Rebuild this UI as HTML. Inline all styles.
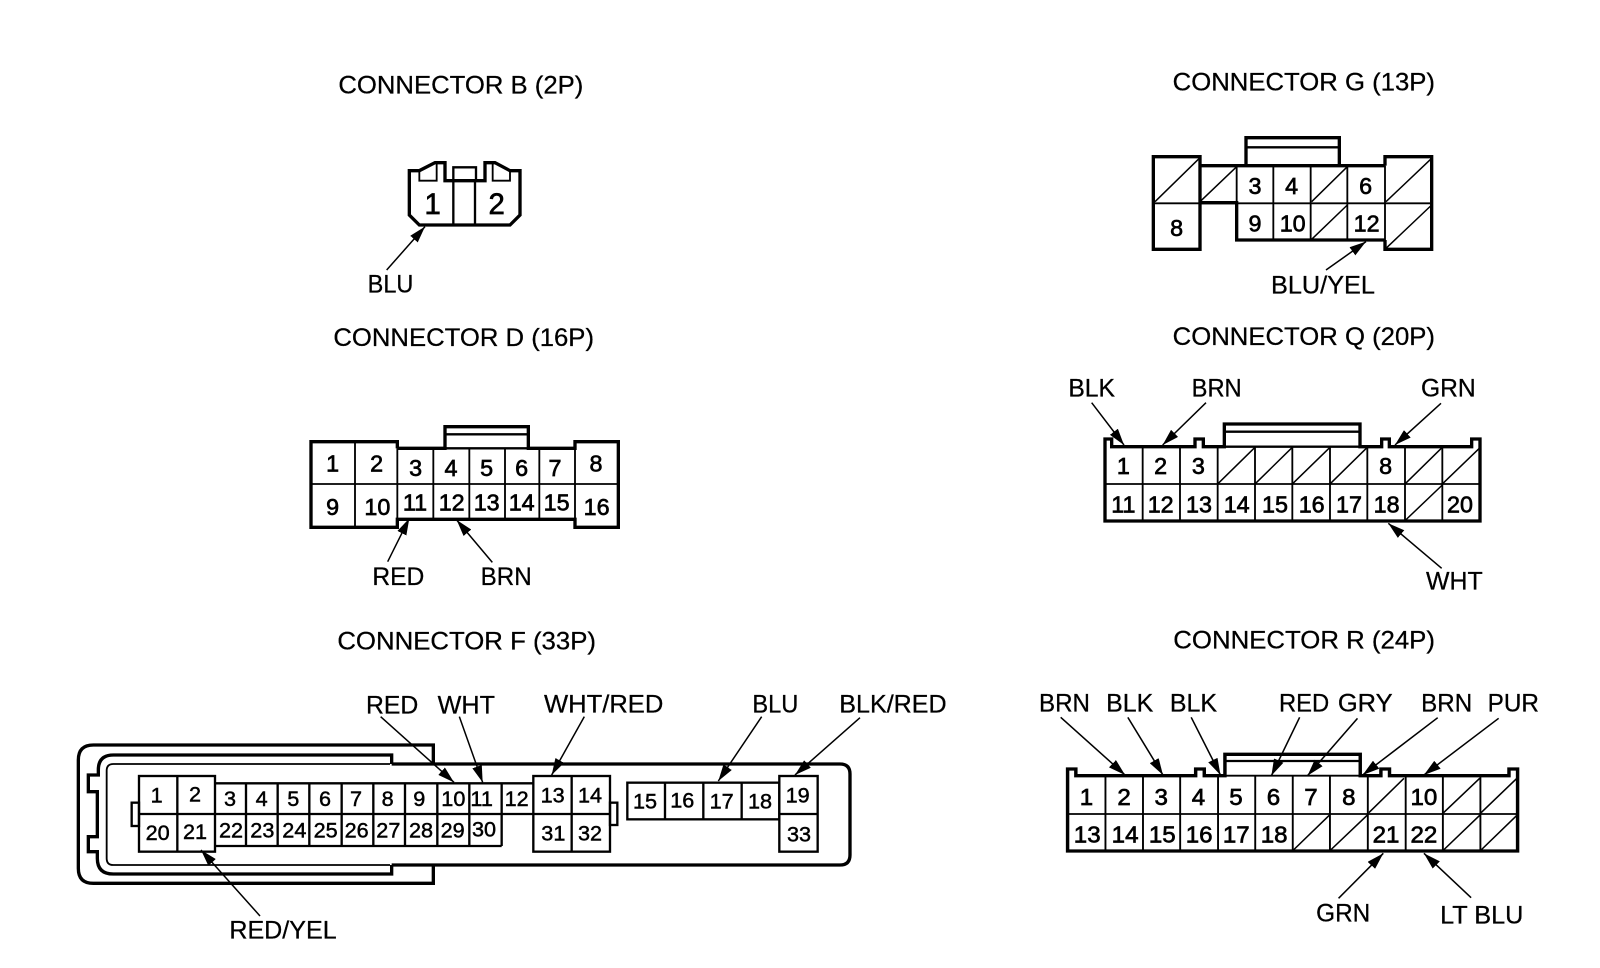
<!DOCTYPE html>
<html><head><meta charset="utf-8"><title>Connectors</title>
<style>
html,body{margin:0;padding:0;background:#fff;width:1600px;height:968px;overflow:hidden}
svg{display:block}
text{font-family:"Liberation Sans",Arial,sans-serif;fill:#000}
.t{font-size:75px;stroke:#000;stroke-width:.8px}
.l{font-size:74px;stroke:#000;stroke-width:.8px}
.n{font-size:70px;text-anchor:middle;stroke:#000;stroke-width:2px}
.f{font-size:65px;text-anchor:middle;stroke:#000;stroke-width:1.4px}
.h{fill:none;stroke:#000;stroke-width:10;stroke-linejoin:miter}
.m{fill:none;stroke:#000;stroke-width:7}
.s{fill:none;stroke:#000;stroke-width:5.5}
.d{fill:none;stroke:#000;stroke-width:4.5}
.a{fill:none;stroke:#000;stroke-width:4.5;marker-end:url(#ah)}
</style></head><body>
<svg width="1600" height="968" viewBox="0 0 1600 968" xmlns="http://www.w3.org/2000/svg">
<defs>
<marker id="ah" viewBox="0 0 50 30" refX="50" refY="15" markerWidth="50" markerHeight="30" orient="auto" markerUnits="userSpaceOnUse"><path d="M0,0 L50,15 L0,30 Z" fill="#000"/></marker>
</defs>
<rect width="1600" height="968" fill="#fff"/>

<!-- CONNECTOR B -->
<g transform="translate(300,50) scale(.33333)">
<text class="t" x="115" y="130" textLength="735" lengthAdjust="spacingAndGlyphs">CONNECTOR B (2P)</text>
<path class="h" d="M328,362 H358 L405,338 H435 V392 H555 V338 H585 L630,362 H660 V495 L630,525 H358 L328,495 Z"/>
<path class="s" d="M358,362 V392 H410 V338 M630,362 V392 H578 V338"/>
<path class="m" d="M460,392 V525 M525,392 V525 M460,392 V352 H528 V392"/>
<text class="n" style="font-size:88px" x="398" y="492">1</text>
<text class="n" style="font-size:88px" x="590" y="492">2</text>
<path class="a" d="M260,660 L375,530"/>
<text class="l" x="203" y="727" textLength="137" lengthAdjust="spacingAndGlyphs">BLU</text>
</g>

<!-- CONNECTOR G -->
<g transform="translate(1100,50) scale(.33333)">
<text class="t" x="218" y="122" textLength="787" lengthAdjust="spacingAndGlyphs">CONNECTOR G (13P)</text>
<path class="s" d="M160,460 H995 M410,347 V460 M520,347 V570 M632,347 V570 M742,347 V570 M855,347 V570"/>
<path class="h" d="M160,320 H300 V598 H160 Z M300,347 H438 V263 H718 V347 H855 M438,347 H718 M300,458 H410 V570 H855 M855,347 V320 H995 V598 H855 V570"/>
<path class="m" d="M438,292 H718"/>
<path class="d" d="M165,455 L298,325 M300,455 L410,350 M635,455 L742,350 M635,568 L742,465 M858,455 L995,325 M858,595 L995,465"/>
<text class="n" x="230" y="558">8</text>
<text class="n" x="465" y="432">3</text><text class="n" x="575" y="432">4</text><text class="n" x="797" y="432">6</text>
<text class="n" x="465" y="545">9</text><text class="n" x="578" y="545">10</text><text class="n" x="800" y="545">12</text>
<path class="a" d="M678,660 L798,575"/>
<text class="l" x="513" y="730" textLength="312" lengthAdjust="spacingAndGlyphs">BLU/YEL</text>
</g>

<!-- CONNECTOR D -->
<g transform="translate(290,320) scale(.33333)">
<text class="t" x="130" y="78" textLength="782" lengthAdjust="spacingAndGlyphs">CONNECTOR D (16P)</text>
<path class="s" d="M63,492 H985 M195,365 V622 M322,385 V598 M430,385 V598 M538,385 V598 M645,385 V598 M748,385 V598 M855,385 V598"/>
<path class="h" d="M322,385 V365 H63 V622 H322 V598 H855 V622 H985 V365 H855 V385 H715 V320 H465 V385 H322"/>
<path class="m" d="M465,343 H715 M465,385 H715"/>
<text class="n" x="128" y="455">1</text><text class="n" x="260" y="455">2</text>
<text class="n" x="377" y="468">3</text><text class="n" x="483" y="468">4</text><text class="n" x="590" y="468">5</text><text class="n" x="695" y="468">6</text><text class="n" x="795" y="468">7</text>
<text class="n" x="918" y="455">8</text>
<text class="n" x="128" y="585">9</text><text class="n" x="262" y="585">10</text>
<text class="n" x="375" y="572">11</text><text class="n" x="485" y="572">12</text><text class="n" x="590" y="572">13</text><text class="n" x="695" y="572">14</text><text class="n" x="800" y="572">15</text>
<text class="n" x="920" y="585">16</text>
<path class="a" d="M293,725 L358,595"/>
<path class="a" d="M607,727 L500,600"/>
<text class="l" x="247" y="795" textLength="156" lengthAdjust="spacingAndGlyphs">RED</text>
<text class="l" x="572" y="795" textLength="153" lengthAdjust="spacingAndGlyphs">BRN</text>
</g>

<!-- CONNECTOR Q -->
<g transform="translate(1060,320) scale(.33333)">
<text class="t" x="338" y="75" textLength="787" lengthAdjust="spacingAndGlyphs">CONNECTOR Q (20P)</text>
<path class="s" d="M135,492 H1260 M248,380 V603 M360,380 V603 M473,380 V603 M585,380 V603 M697,380 V603 M810,380 V603 M922,380 V603 M1035,380 V603 M1147,380 V603"/>
<path class="h" d="M135,357 H155 V380 H405 V357 H430 V380 H493 V312 H900 V380 H965 V357 H988 V380 H1235 V357 H1260 V603 H135 Z"/>
<path class="m" d="M493,335 H900 M493,380 H900"/>
<path class="d" d="M475,490 L585,382 M587,490 L697,382 M699,490 L810,382 M812,490 L922,382 M1037,490 L1147,382 M1149,490 L1258,385 M1037,600 L1147,495"/>
<text class="n" x="190" y="462">1</text><text class="n" x="302" y="462">2</text><text class="n" x="415" y="462">3</text><text class="n" x="977" y="462">8</text>
<text class="n" x="190" y="577">11</text><text class="n" x="302" y="577">12</text><text class="n" x="417" y="577">13</text><text class="n" x="530" y="577">14</text><text class="n" x="645" y="577">15</text><text class="n" x="755" y="577">16</text><text class="n" x="867" y="577">17</text><text class="n" x="980" y="577">18</text><text class="n" x="1200" y="577">20</text>
<path class="a" d="M95,248 L192,375"/>
<path class="a" d="M438,248 L308,375"/>
<path class="a" d="M1143,250 L1005,375"/>
<path class="a" d="M1145,745 L985,610"/>
<text class="l" x="25" y="230" textLength="140" lengthAdjust="spacingAndGlyphs">BLK</text>
<text class="l" x="395" y="230" textLength="150" lengthAdjust="spacingAndGlyphs">BRN</text>
<text class="l" x="1083" y="230" textLength="164" lengthAdjust="spacingAndGlyphs">GRN</text>
<text class="l" x="1098" y="808" textLength="170" lengthAdjust="spacingAndGlyphs">WHT</text>
</g>

<!-- CONNECTOR F -->
<g transform="translate(60,620) scale(.33333)">
<text class="t" x="832" y="88" textLength="776" lengthAdjust="spacingAndGlyphs">CONNECTOR F (33P)</text>
<path class="h" d="M1120,432 V375 H100 Q55,375 55,420 V745 Q55,790 100,790 H1120 V735"/>
<path class="h" d="M995,432 V405 H160 Q115,405 115,450 V465 H85 V515 H112 V650 H85 V695 H112 V715 Q112,762 160,762 H995 V735"/>
<path class="h" d="M995,432 H2340 Q2370,432 2370,462 V705 Q2370,735 2340,735 H995"/>
<path class="s" d="M990,432 H160 Q140,432 140,452 V715 Q140,735 160,735 H990"/>
<rect class="m" x="215" y="548" width="22" height="70"/>
<rect class="m" x="237" y="468" width="228" height="227"/>
<path class="m" d="M352,468 V695 M237,582 H465"/>
<path class="m" d="M465,490 H1420 M465,582 H1420 M465,678 H1325 M558,490 V678 M653,490 V678 M748,490 V678 M845,490 V678 M940,490 V678 M1035,490 V678 M1132,490 V678 M1228,490 V678 M1325,490 V678"/>
<rect class="m" x="1420" y="468" width="230" height="227"/>
<path class="m" d="M1535,468 V695 M1420,582 H1650"/>
<rect class="m" x="1650" y="548" width="22" height="67"/>
<rect class="m" x="1702" y="488" width="456" height="110"/>
<path class="m" d="M1815,488 V598 M1930,488 V598 M2045,488 V598"/>
<rect class="m" x="2158" y="468" width="115" height="227"/>
<path class="m" d="M2158,582 H2273"/>
<text class="f" x="290" y="548">1</text><text class="f" x="405" y="545">2</text>
<text class="f" x="510" y="558">3</text><text class="f" x="605" y="558">4</text><text class="f" x="700" y="558">5</text><text class="f" x="795" y="558">6</text><text class="f" x="888" y="558">7</text><text class="f" x="983" y="558">8</text><text class="f" x="1078" y="558">9</text><text class="f" x="1180" y="558">10</text><text class="f" x="1265" y="558">11</text><text class="f" x="1370" y="558">12</text>
<text class="f" x="293" y="660">20</text><text class="f" x="405" y="657">21</text>
<text class="f" x="513" y="652">22</text><text class="f" x="607" y="652">23</text><text class="f" x="703" y="652">24</text><text class="f" x="797" y="652">25</text><text class="f" x="890" y="652">26</text><text class="f" x="985" y="652">27</text><text class="f" x="1083" y="652">28</text><text class="f" x="1178" y="652">29</text><text class="f" x="1272" y="650">30</text>
<text class="f" x="1478" y="548">13</text><text class="f" x="1590" y="548">14</text><text class="f" x="1480" y="662">31</text><text class="f" x="1590" y="662">32</text>
<text class="f" x="1755" y="565">15</text><text class="f" x="1867" y="562">16</text><text class="f" x="1985" y="565">17</text><text class="f" x="2100" y="565">18</text>
<text class="f" x="2213" y="547">19</text><text class="f" x="2217" y="665">33</text>
<path class="a" d="M962,290 L1182,487"/>
<path class="a" d="M1198,290 L1268,487"/>
<path class="a" d="M600,888 L423,690"/>
<path class="a" d="M1573,290 L1475,465"/>
<path class="a" d="M2105,290 L1975,483"/>
<path class="a" d="M2400,293 L2205,465"/>
<text class="l" x="918" y="280" textLength="157" lengthAdjust="spacingAndGlyphs">RED</text>
<text class="l" x="1133" y="280" textLength="172" lengthAdjust="spacingAndGlyphs">WHT</text>
<text class="l" x="508" y="955" textLength="322" lengthAdjust="spacingAndGlyphs">RED/YEL</text>
<text class="l" x="1452" y="277" textLength="358" lengthAdjust="spacingAndGlyphs">WHT/RED</text>
<text class="l" x="2077" y="277" textLength="138" lengthAdjust="spacingAndGlyphs">BLU</text>
<text class="l" x="2338" y="277" textLength="322" lengthAdjust="spacingAndGlyphs">BLK/RED</text>
</g>

<!-- CONNECTOR R -->
<g transform="matrix(.3443 0 0 .33333 1030.4 620)">
<text class="t" x="415" y="85" textLength="760" lengthAdjust="spacingAndGlyphs">CONNECTOR R (24P)</text>
<path class="s" d="M108,582 H1415 M218,467 V693 M327,467 V693 M435,467 V693 M545,467 V693 M653,467 V693 M762,467 V693 M870,467 V693 M980,467 V693 M1090,467 V693 M1198,467 V693 M1307,467 V693"/>
<path class="h" d="M108,447 H132 V467 H480 V447 H505 V467 H565 V403 H958 V467 H1018 V447 H1043 V467 H1390 V447 H1415 V693 H108 Z"/>
<path class="m" d="M565,423 H958"/>
<path class="s" d="M565,467 H958"/>
<path class="d" d="M983,578 L1085,475 M1200,578 L1305,475 M1309,578 L1413,475 M764,690 L868,586 M872,690 L978,586 M1200,690 L1305,586 M1309,690 L1413,586"/>
<text class="n" x="163" y="555">1</text><text class="n" x="272" y="555">2</text><text class="n" x="380" y="555">3</text><text class="n" x="488" y="555">4</text><text class="n" x="597" y="555">5</text><text class="n" x="706" y="555">6</text><text class="n" x="815" y="555">7</text><text class="n" x="925" y="555">8</text><text class="n" x="1143" y="555">10</text>
<text class="n" x="165" y="667">13</text><text class="n" x="275" y="667">14</text><text class="n" x="383" y="667">15</text><text class="n" x="490" y="667">16</text><text class="n" x="598" y="667">17</text><text class="n" x="708" y="667">18</text><text class="n" x="1033" y="667">21</text><text class="n" x="1143" y="667">22</text>
<path class="a" d="M88,292 L275,465"/>
<path class="a" d="M283,292 L385,465"/>
<path class="a" d="M467,292 L552,465"/>
<path class="a" d="M782,292 L700,467"/>
<path class="a" d="M950,295 L805,467"/>
<path class="a" d="M1183,293 L965,465"/>
<path class="a" d="M1360,295 L1143,465"/>
<path class="a" d="M895,835 L1025,700"/>
<path class="a" d="M1280,833 L1143,700"/>
<text class="l" x="25" y="275" textLength="148" lengthAdjust="spacingAndGlyphs">BRN</text>
<text class="l" x="220" y="275" textLength="137" lengthAdjust="spacingAndGlyphs">BLK</text>
<text class="l" x="405" y="275" textLength="137" lengthAdjust="spacingAndGlyphs">BLK</text>
<text class="l" x="722" y="275" textLength="146" lengthAdjust="spacingAndGlyphs">RED</text>
<text class="l" x="893" y="275" textLength="159" lengthAdjust="spacingAndGlyphs">GRY</text>
<text class="l" x="1135" y="275" textLength="148" lengthAdjust="spacingAndGlyphs">BRN</text>
<text class="l" x="1328" y="275" textLength="149" lengthAdjust="spacingAndGlyphs">PUR</text>
<text class="l" x="830" y="905" textLength="157" lengthAdjust="spacingAndGlyphs">GRN</text>
<text class="l" x="1190" y="910" textLength="242" lengthAdjust="spacingAndGlyphs">LT BLU</text>
</g>
</svg>
</body></html>
